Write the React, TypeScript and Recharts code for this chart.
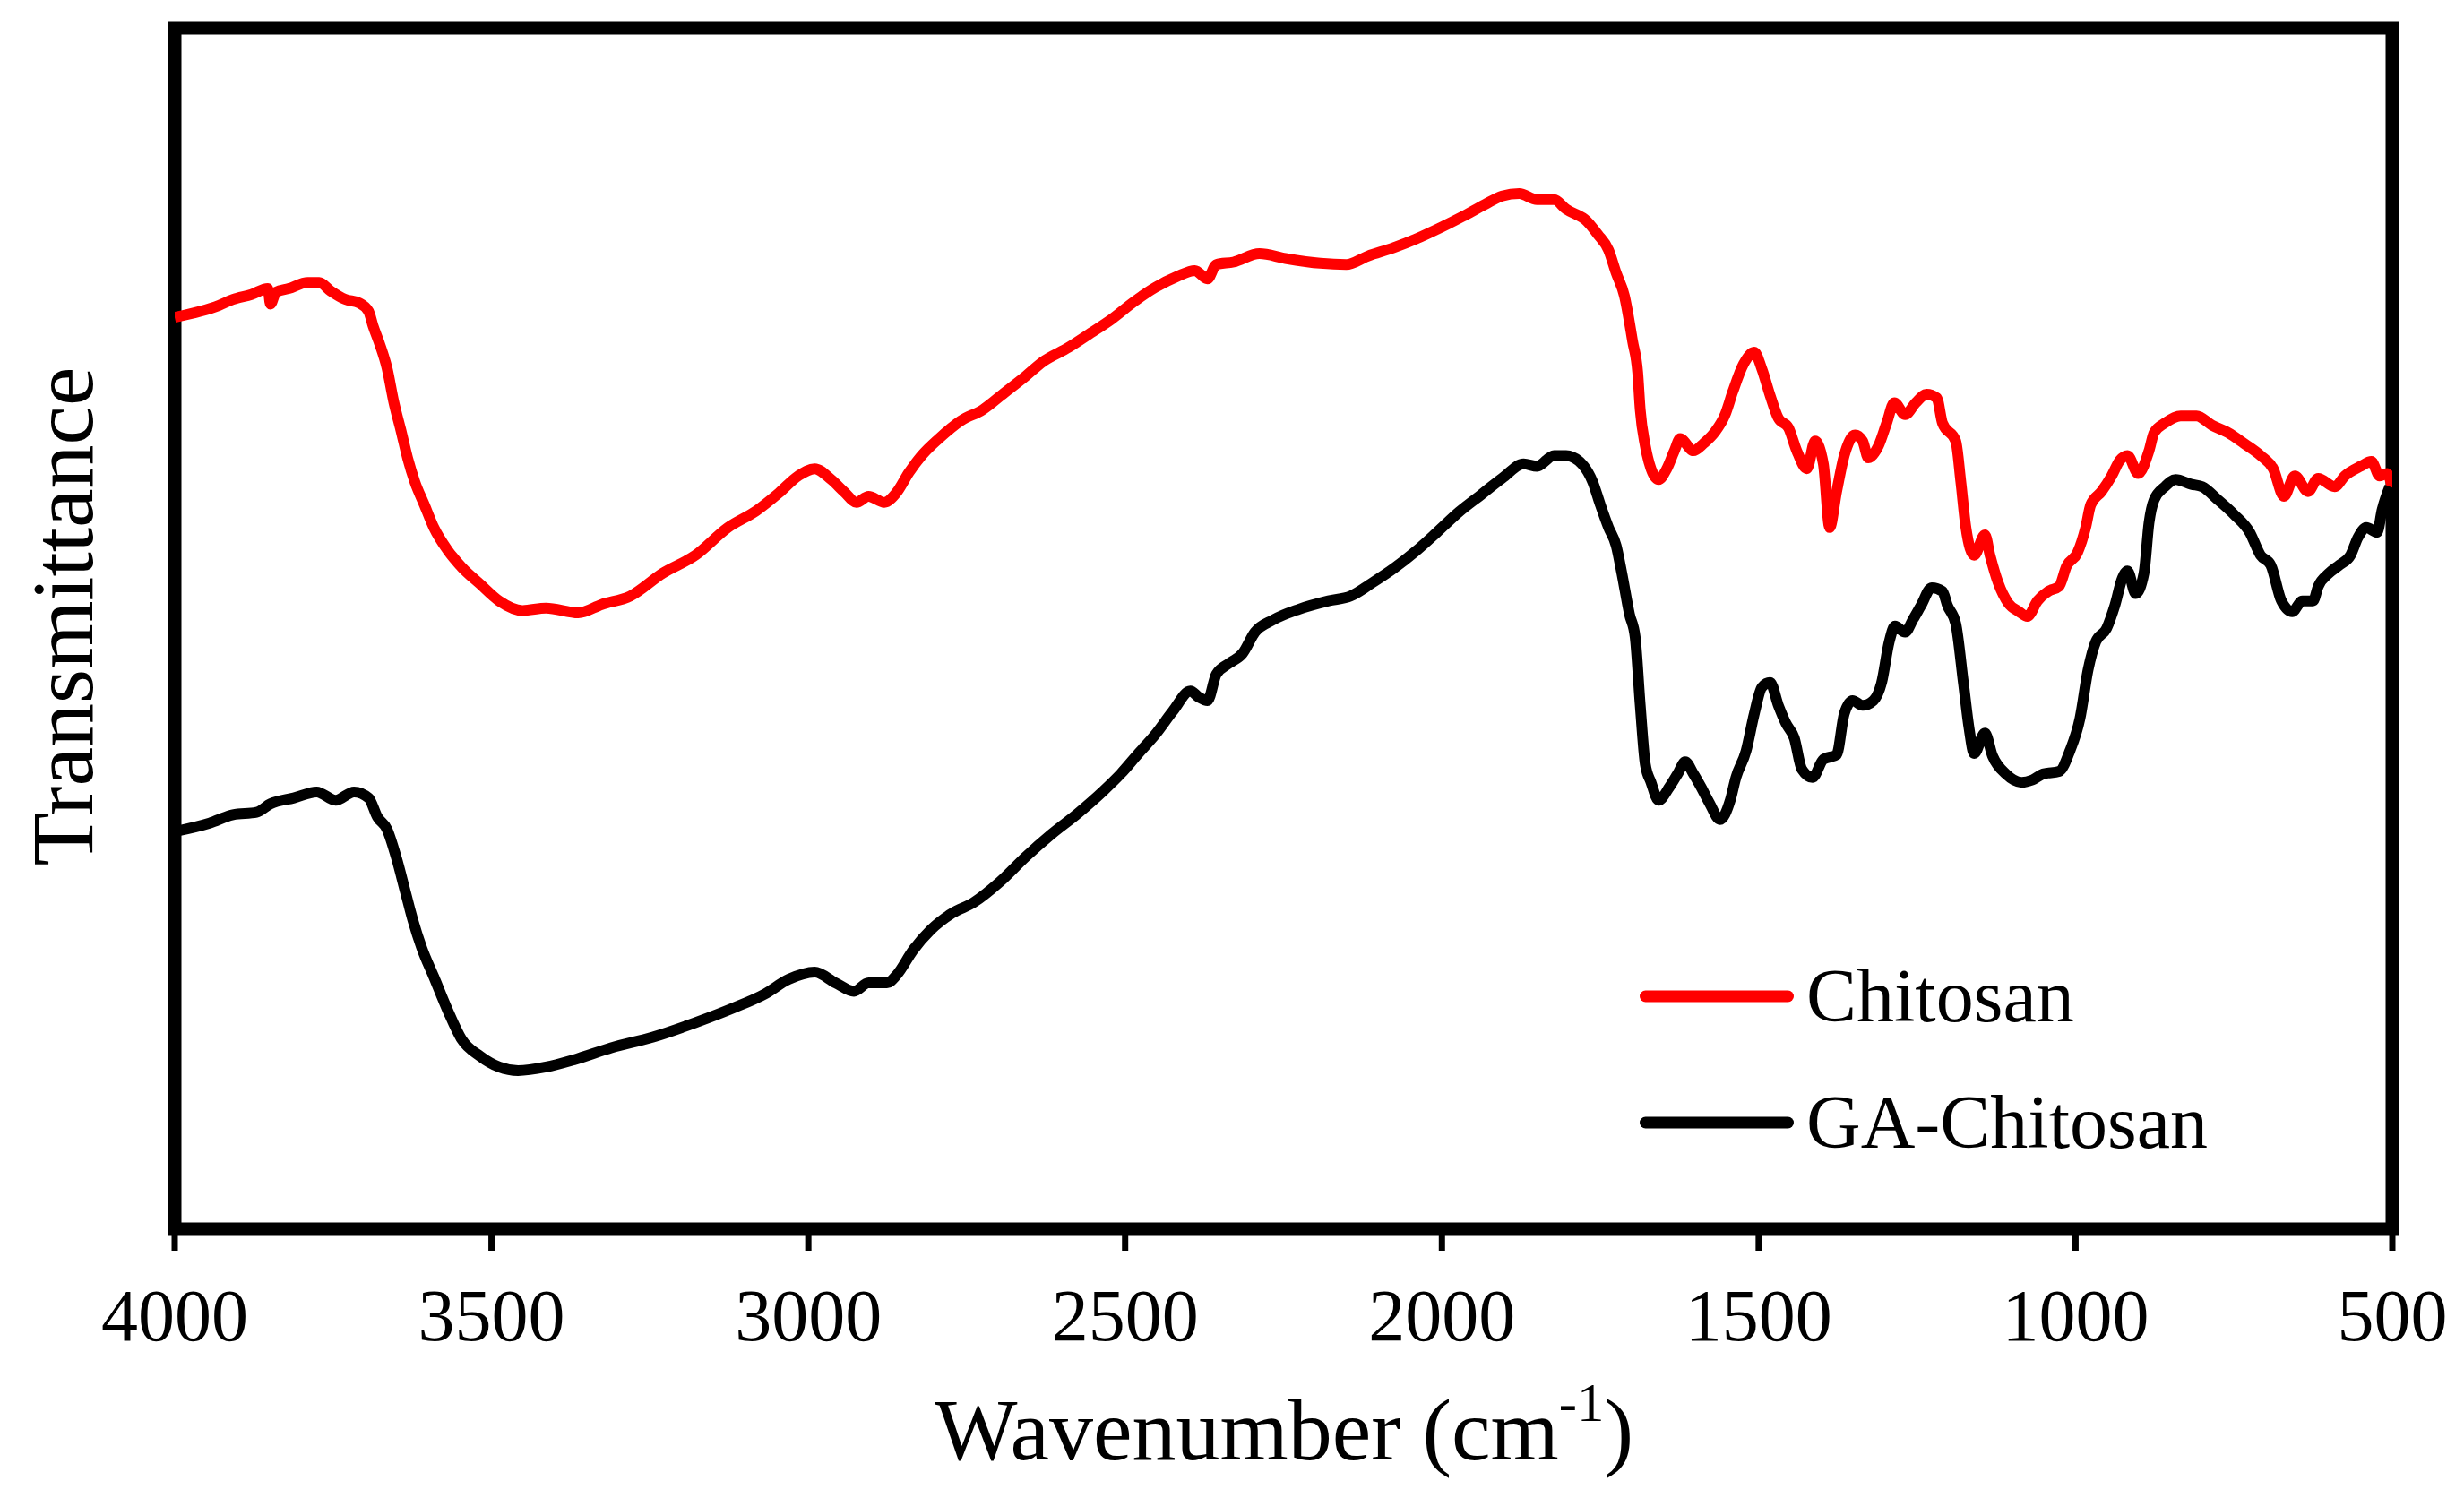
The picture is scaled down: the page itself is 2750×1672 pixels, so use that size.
import { LineChart, Line, XAxis, YAxis, ReferenceArea, Legend } from 'recharts';

const FONT = '"Liberation Serif", "Times New Roman", serif';

// x ticks (cm-1), axis runs high -> low
const xTicks = [4000, 3500, 3000, 2500, 2000, 1500, 1000, 500];

// [wavenumber, transmittance (arb. units)]
const chitosan: [number, number][] = [
  [4000, 75.9], [3960, 76.4], [3930, 76.9], [3908, 77.4], [3879, 77.8], [3853, 78.3], [3849, 77.0],
  [3840, 78.0], [3820, 78.3], [3790, 78.8], [3772, 78.8], [3754, 78.1], [3731, 77.4], [3709, 77.1],
  [3694, 76.4], [3687, 75.2], [3676, 73.6], [3665, 71.7], [3654, 68.8], [3643, 66.5], [3632, 64.1],
  [3621, 62.2], [3606, 60.3], [3591, 58.4], [3569, 56.5], [3547, 55.1], [3518, 53.7], [3488, 52.3],
  [3451, 51.5], [3414, 51.7], [3363, 51.3], [3326, 52.0], [3281, 52.7], [3230, 54.6], [3178, 56.1],
  [3127, 58.4], [3082, 59.8], [3046, 61.3], [3016, 62.7], [2990, 63.3], [2964, 62.4], [2942, 61.3],
  [2924, 60.5], [2905, 61.0], [2880, 60.5], [2861, 61.3], [2841, 63.0], [2821, 64.4], [2794, 65.8],
  [2759, 67.3], [2725, 68.2], [2691, 69.6], [2657, 71.0], [2630, 72.2], [2589, 73.4], [2554, 74.6],
  [2520, 75.8], [2486, 77.2], [2452, 78.4], [2418, 79.3], [2390, 79.8], [2370, 79.1], [2356, 80.3],
  [2329, 80.5], [2288, 81.2], [2247, 80.8], [2192, 80.4], [2151, 80.3], [2117, 81.0], [2076, 81.7],
  [2042, 82.4], [2001, 83.4], [1967, 84.3], [1932, 85.3], [1905, 86.0], [1878, 86.2], [1850, 85.7],
  [1823, 85.7], [1804, 84.9], [1771, 83.9], [1754, 82.8], [1737, 81.5], [1725, 79.6], [1712, 77.7],
  [1699, 73.9], [1691, 71.3], [1687, 68.2], [1679, 65.2], [1670, 63.3], [1658, 62.4], [1645, 63.3],
  [1633, 64.8], [1624, 65.8], [1603, 64.8], [1587, 65.4], [1570, 66.3], [1553, 67.8], [1541, 69.7],
  [1524, 72.0], [1507, 73.0], [1495, 71.6], [1482, 69.4], [1469, 67.5], [1453, 66.7], [1440, 64.8],
  [1424, 63.3], [1411, 65.6], [1398, 63.7], [1388, 58.4], [1377, 61.4], [1365, 64.4], [1348, 66.1],
  [1336, 65.6], [1327, 64.2], [1311, 65.2], [1298, 67.1], [1286, 68.8], [1269, 67.8], [1252, 68.8],
  [1235, 69.5], [1219, 69.2], [1210, 67.1], [1189, 65.6], [1181, 62.2], [1173, 58.4], [1160, 56.1],
  [1143, 57.8], [1135, 56.1], [1122, 53.8], [1106, 52.1], [1089, 51.4], [1076, 51.0], [1060, 52.3],
  [1043, 53.1], [1026, 53.5], [1014, 55.2], [997, 56.3], [984, 58.4], [976, 60.3], [959, 61.4],
  [943, 62.7], [930, 64.0], [918, 64.4], [901, 62.9], [884, 64.8], [876, 66.3], [859, 67.1],
  [834, 67.7], [809, 67.7], [784, 66.9], [759, 66.3], [734, 65.4], [708, 64.4], [688, 63.3],
  [671, 61.0], [654, 62.7], [633, 61.4], [617, 62.5], [591, 61.8], [575, 62.7], [550, 63.5],
  [533, 63.9], [520, 62.7], [508, 62.9], [500, 61.6],
];

const gaChitosan: [number, number][] = [
  [4000, 33.1], [3945, 33.8], [3908, 34.5], [3871, 34.7], [3849, 35.4], [3812, 35.9], [3776, 36.4],
  [3746, 35.7], [3717, 36.4], [3694, 35.9], [3680, 34.3], [3665, 33.3], [3650, 30.9], [3636, 28.1],
  [3624, 25.7], [3610, 23.4], [3591, 21.0], [3569, 18.2], [3547, 15.8], [3518, 14.4], [3488, 13.5],
  [3458, 13.2], [3414, 13.5], [3370, 14.1], [3311, 15.1], [3245, 16.0], [3178, 17.2], [3119, 18.4],
  [3068, 19.6], [3031, 20.8], [2990, 21.4], [2957, 20.5], [2928, 19.8], [2905, 20.5], [2876, 20.5],
  [2860, 21.2], [2835, 23.2], [2807, 24.9], [2773, 26.3], [2739, 27.2], [2698, 28.9], [2657, 31.0],
  [2616, 32.9], [2575, 34.6], [2534, 36.5], [2507, 37.9], [2479, 39.6], [2452, 41.2], [2425, 43.1],
  [2397, 44.8], [2384, 44.3], [2370, 44.0], [2356, 46.2], [2336, 47.1], [2315, 47.9], [2295, 49.7],
  [2267, 50.7], [2226, 51.6], [2179, 52.3], [2144, 52.7], [2110, 53.8], [2076, 55.0], [2042, 56.4],
  [2008, 58.0], [1973, 59.7], [1939, 61.1], [1905, 62.5], [1871, 63.7], [1850, 63.5], [1823, 64.4],
  [1804, 64.4], [1779, 63.7], [1762, 62.2], [1750, 60.3], [1737, 58.4], [1725, 56.9], [1716, 54.6],
  [1704, 51.2], [1695, 49.3], [1687, 43.6], [1679, 38.7], [1670, 37.2], [1658, 35.7], [1641, 36.8],
  [1628, 37.9], [1616, 38.9], [1603, 37.9], [1591, 36.8], [1578, 35.5], [1561, 34.1], [1545, 35.7],
  [1536, 37.6], [1520, 39.8], [1507, 42.9], [1495, 45.1], [1482, 45.5], [1469, 43.6], [1457, 42.1],
  [1444, 40.9], [1432, 38.3], [1415, 37.6], [1398, 39.1], [1377, 39.5], [1365, 42.9], [1352, 44.0],
  [1336, 43.6], [1319, 44.0], [1306, 45.5], [1294, 48.9], [1285, 50.2], [1269, 49.7], [1256, 50.8],
  [1244, 51.9], [1227, 53.4], [1210, 53.1], [1202, 51.9], [1189, 50.4], [1177, 45.5], [1168, 41.7],
  [1160, 39.6], [1143, 41.3], [1131, 39.4], [1110, 37.9], [1085, 37.2], [1068, 37.4], [1051, 37.9],
  [1026, 38.1], [1009, 39.8], [993, 42.5], [980, 46.6], [968, 48.9], [951, 50.0], [938, 51.9],
  [926, 54.2], [918, 54.8], [905, 52.9], [892, 54.6], [884, 58.8], [876, 60.7], [859, 61.8],
  [842, 62.4], [817, 62.0], [800, 61.8], [775, 60.7], [750, 59.5], [725, 58.0], [708, 56.1],
  [692, 55.3], [675, 52.3], [658, 51.4], [642, 52.3], [625, 52.3], [617, 53.5], [600, 54.6],
  [583, 55.3], [566, 56.1], [554, 57.6], [541, 58.4], [524, 58.0], [516, 59.9], [504, 61.8],
];

const series = [
  { name: 'Chitosan', color: '#ff0000', points: chitosan },
  { name: 'GA-Chitosan', color: '#000000', points: gaChitosan },
];

function SpectraLegend({ payload }: any) {
  return (
    <div style={{ fontFamily: FONT, fontSize: 84, lineHeight: 1, color: '#000' }}>
      {(payload ?? []).map((p: any) => (
        <div key={p.value} style={{ display: 'flex', alignItems: 'center', height: 141 }}>
          <svg width={172} height={14} style={{ display: 'block' }}>
            <line x1={6.5} y1={7} x2={165.5} y2={7} stroke={p.color} strokeWidth={13} strokeLinecap="round" />
          </svg>
          <span style={{ marginLeft: 14, whiteSpace: 'nowrap' }}>{p.value}</span>
        </div>
      ))}
    </div>
  );
}

export default function App() {
  return (
    <div style={{ position: 'absolute', left: 0, top: 0, width: 2750, height: 1672, background: '#fff' }}>
      <LineChart width={2750} height={1672} margin={{ top: 31, right: 80, bottom: 240, left: 195 }}>
        <XAxis
          type="number"
          dataKey="wn"
          domain={[500, 4000]}
          reversed
          ticks={xTicks}
          interval={0}
          allowDataOverflow
          axisLine={false}
          tickLine={{ stroke: '#000', strokeWidth: 7 }}
          tickSize={24}
          tickMargin={42}
          height={60}
          tick={{ fill: '#000', fontSize: 82, fontFamily: FONT }}
        />
        <YAxis type="number" domain={[0, 100]} hide allowDataOverflow />
        {series.map((s) => (
          <Line
            key={s.name}
            name={s.name}
            data={s.points.map(([wn, t]) => ({ wn, t }))}
            dataKey="t"
            type="monotone"
            stroke={s.color}
            strokeWidth={12}
            strokeLinejoin="round"
            dot={false}
            activeDot={false}
            isAnimationActive={false}
          />
        ))}
        <ReferenceArea
          x1={4000}
          x2={500}
          y1={0}
          y2={100}
          fill="none"
          fillOpacity={0}
          stroke="#000"
          strokeWidth={15}
          ifOverflow="visible"
        />
        <Legend
          layout="vertical"
          align="center"
          verticalAlign="middle"
          content={<SpectraLegend />}
          wrapperStyle={{ left: 1830, top: 1041, width: 'auto', height: 'auto' }}
        />
      </LineChart>
      <div
        style={{
          position: 'absolute',
          left: 70,
          top: 688,
          transform: 'translate(-50%, -50%) rotate(-90deg)',
          fontFamily: FONT,
          fontSize: 98,
          lineHeight: 1,
          whiteSpace: 'nowrap',
          color: '#000',
        }}
      >
        Transmittance
      </div>
      <div
        style={{
          position: 'absolute',
          left: 1433,
          top: 1596,
          transform: 'translate(-50%, -50%)',
          fontFamily: FONT,
          fontSize: 98,
          lineHeight: 1,
          whiteSpace: 'nowrap',
          color: '#000',
        }}
      >
        Wavenumber (cm<sup style={{ fontSize: '0.62em', verticalAlign: '0.7em', lineHeight: 0 }}>-1</sup>)
      </div>
    </div>
  );
}
